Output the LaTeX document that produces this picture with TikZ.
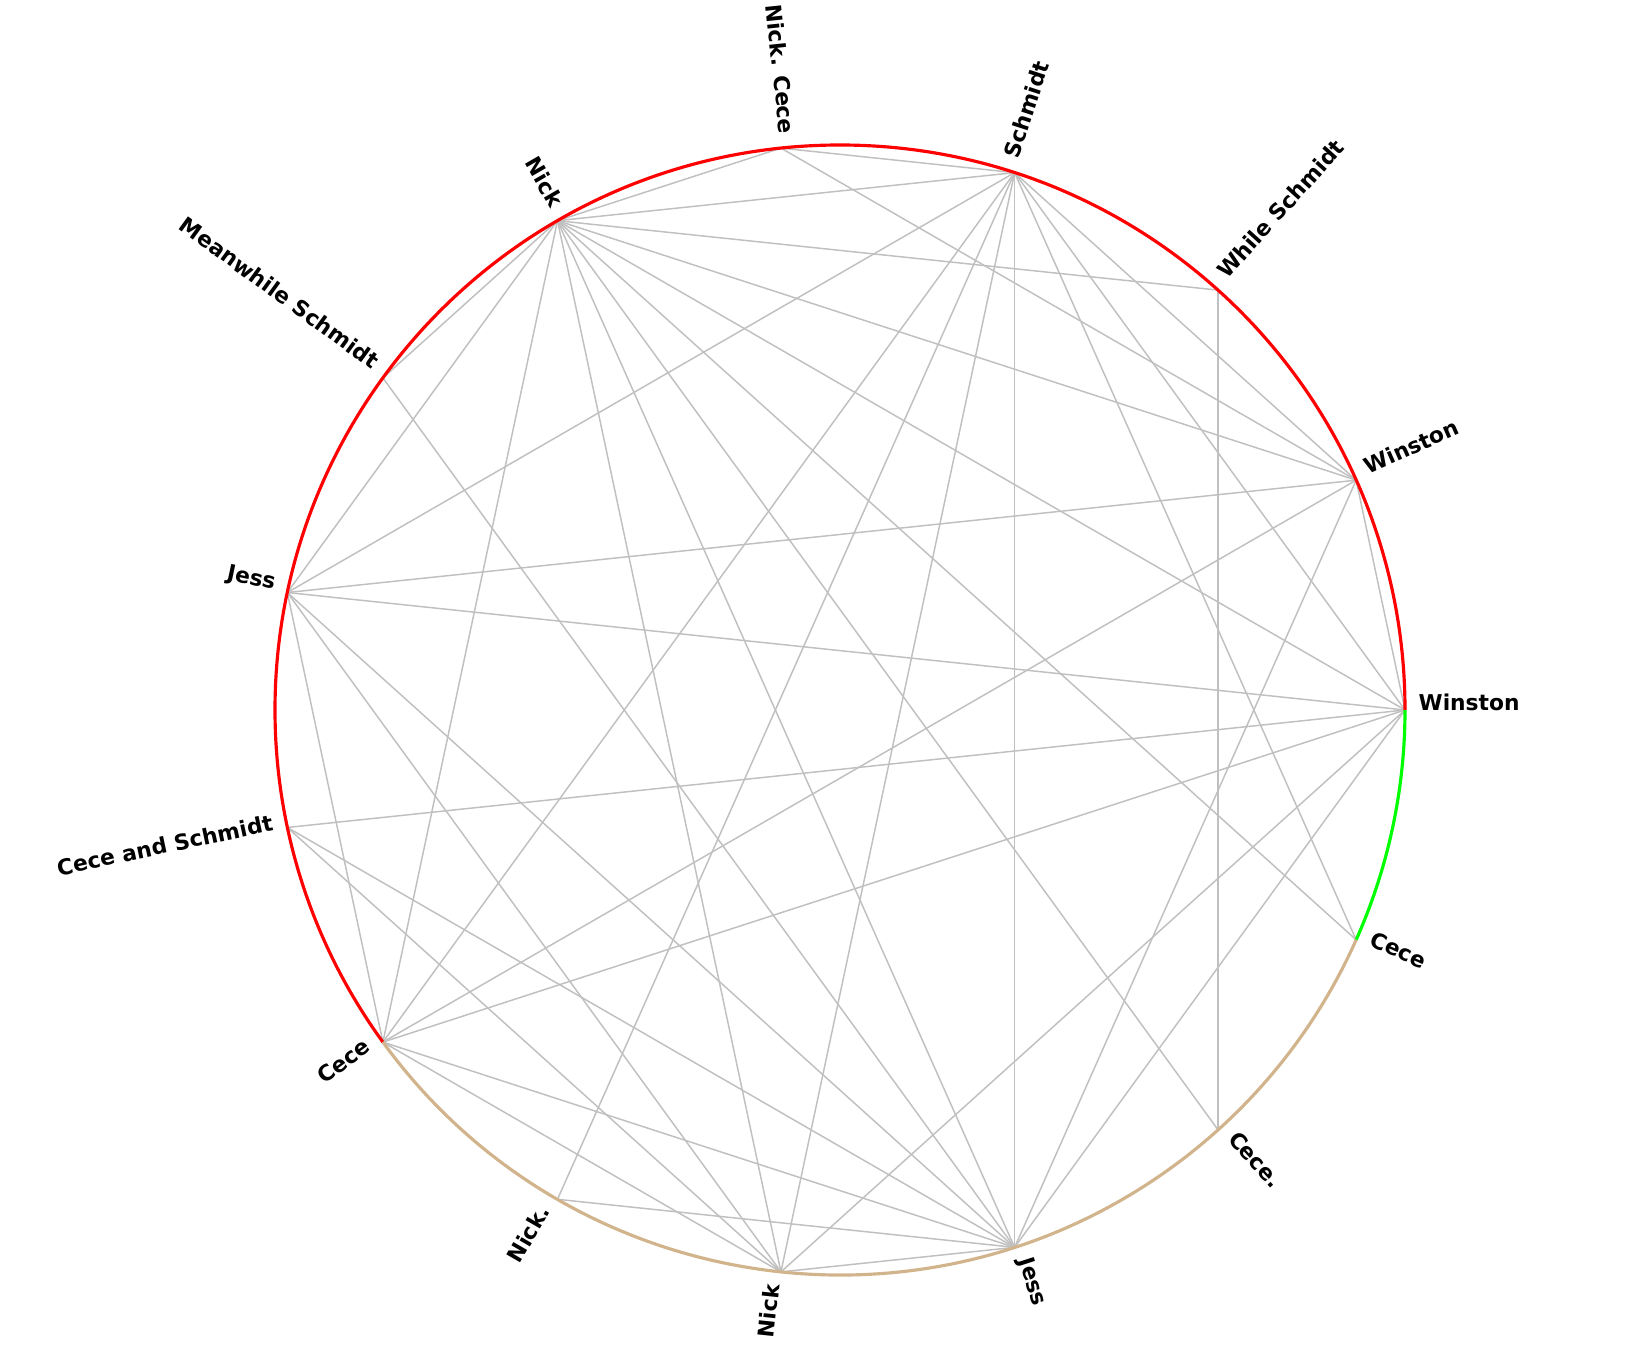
\documentclass[tikz,border=0pt]{standalone}
\usepackage{fontspec}
\setmainfont{DejaVu Sans}
\usetikzlibrary{calc}
\definecolor{rimred}{RGB}{255,0,0}
\definecolor{rimgreen}{RGB}{0,255,0}
\definecolor{rimtan}{RGB}{210,180,140}
\definecolor{chordgray}{RGB}{192,192,192}

\begin{document}
\begin{tikzpicture}[
    chord/.style={draw=chordgray, line width=0.42pt},
    rim/.style={line width=0.9pt},
    lbl/.style={font=\fontsize{6.2}{7}\selectfont\bfseries, inner sep=0pt}]
    \useasboundingbox (0,0) rectangle (16.42,13.50);
    \def\rad{5.65}
    \coordinate (c) at (8.40,6.40);
    % points on the rim, every 24 degrees
    \foreach \i in {0,...,14} \coordinate (p\i) at ($(c)+(24*\i:\rad)$);
    % chords
    \foreach \a/\b in {4/5, 4/3, 4/1, 5/3, 5/2, 5/1, 5/0, 5/14, 5/6, 5/7, 5/9, 5/11, 5/12, 5/13,
                       3/1, 3/0, 3/14, 3/7, 3/9, 3/10, 3/11, 3/12, 2/13, 1/0, 1/7, 1/9, 1/12,
                       0/7, 0/8, 0/9, 0/11, 0/12, 6/12, 7/9, 7/11, 7/12, 8/12, 8/11, 9/12, 9/11,
                       10/12, 11/12}
      \draw[chord] (p\a) -- (p\b);
    % coloured rim
    \draw[rim, rimred]   (p0) arc[start angle=0, end angle=216, radius=\rad];
    \draw[rim, rimgreen] (p14) arc[start angle=-24, end angle=0, radius=\rad];
    \draw[rim, rimtan]   (p9) arc[start angle=216, end angle=336, radius=\rad];
    % labels
    \foreach \i/\txt in {0/Winston, 1/Winston, 2/While Schmidt, 3/Schmidt, 12/Jess, 13/Cece., 14/Cece}
      \node[lbl, rotate=24*\i, anchor=base west] (t\i) at ($(c)+(24*\i:\rad+0.13)$) {\txt};
    \foreach \i/\txt in {4/Nick. Cece, 5/Nick, 6/Meanwhile Schmidt, 7/Jess, 8/Cece and Schmidt,
                         9/Cece, 10/Nick., 11/Nick}
      \node[lbl, rotate=24*\i-180, anchor=base east] (t\i) at ($(c)+(24*\i:\rad+0.13)$) {\txt};
\end{tikzpicture}
\end{document}
